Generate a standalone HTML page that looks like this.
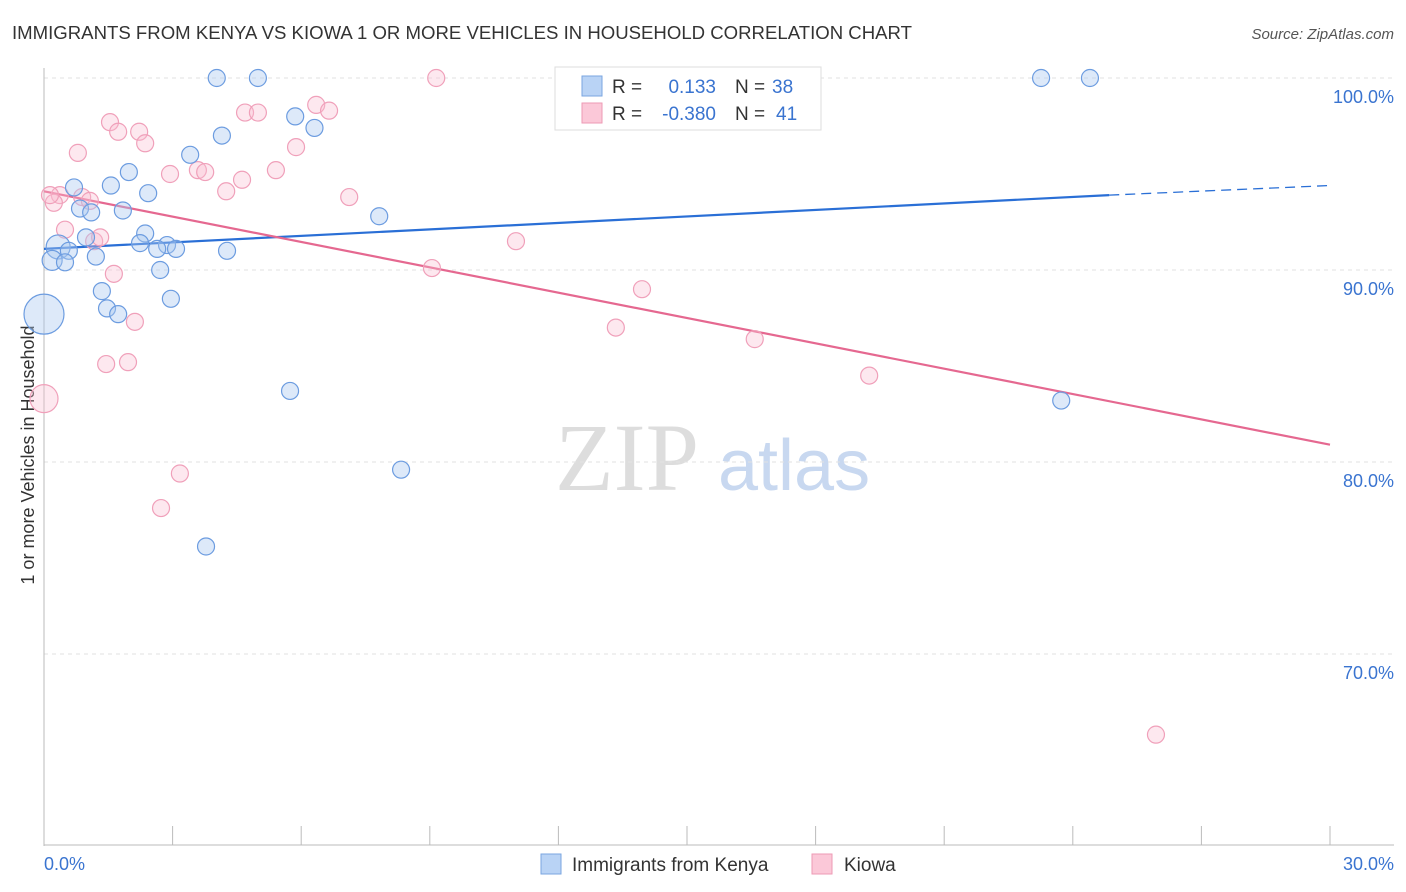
<!DOCTYPE html>
<html><head><meta charset="utf-8"><style>
body{margin:0;background:#fff;font-family:"Liberation Sans",sans-serif;}
svg{display:block}
</style></head><body>
<svg id="chart" width="1406" height="892" xmlns="http://www.w3.org/2000/svg">
<text x="12" y="39" font-size="18" fill="#333" textLength="900" lengthAdjust="spacingAndGlyphs">IMMIGRANTS FROM KENYA VS KIOWA 1 OR MORE VEHICLES IN HOUSEHOLD CORRELATION CHART</text>
<text x="1394" y="39" font-size="15" fill="#555" font-style="italic" text-anchor="end">Source: ZipAtlas.com</text>
<text x="0" y="0" font-size="18" fill="#333" text-anchor="middle" transform="translate(34,455) rotate(-90)">1 or more Vehicles in Household</text>
<g><text x="555" y="490" font-size="96" fill="#ddd" font-family="Liberation Serif,serif">ZIP</text><text x="718" y="490" font-size="72" fill="#c8d8f0">atlas</text></g>
<g id="grid"></g><g id="axes"></g><g id="lines"></g><g id="pts"></g>
<g>
<rect x="555" y="67" width="266" height="63" fill="#fff" stroke="#ddd"/>
<rect x="582" y="76" width="20" height="20" fill="#b9d3f5" stroke="#7aa6e0"/>
<rect x="582" y="103" width="20" height="20" fill="#fbc8d8" stroke="#ee9ab4"/>
<text x="612" y="93" font-size="19" fill="#333">R = </text><text x="716" y="93" font-size="19" fill="#3a74d0" text-anchor="end">0.133</text>
<text x="735" y="93" font-size="19" fill="#333">N = </text><text x="772" y="93" font-size="19" fill="#3a74d0">38</text>
<text x="612" y="120" font-size="19" fill="#333">R = </text><text x="716" y="120" font-size="19" fill="#3a74d0" text-anchor="end">-0.380</text>
<text x="735" y="120" font-size="19" fill="#333">N = </text><text x="776" y="120" font-size="19" fill="#3a74d0">41</text>
</g>
<g>
<rect x="541" y="854" width="20" height="20" fill="#b9d3f5" stroke="#7aa6e0"/>
<text x="572" y="871" font-size="19" fill="#333">Immigrants from Kenya</text>
<rect x="812" y="854" width="20" height="20" fill="#fbc8d8" stroke="#ee9ab4"/>
<text x="844" y="871" font-size="19" fill="#333">Kiowa</text>
</g>
<text x="44" y="870" font-size="18" fill="#3a74d0">0.0%</text>
<text x="1394" y="870" font-size="18" fill="#3a74d0" text-anchor="end">30.0%</text>
</svg>
<script>
const yTicks=[100,90,80,70];
const yTickLabels=["100.0%","90.0%","80.0%","70.0%"];
const kenyaX=[4.03,4.99,23.26,24.40,4.15,5.86,6.31,3.41,1.98,1.56,0.70,2.43,0.84,1.10,1.84,7.82,2.36,0.98,0.33,0.58,2.24,2.87,2.64,3.08,4.27,0.19,0.49,1.21,2.71,1.35,2.96,1.47,1.73,0.00,5.74,23.73,8.33,3.78];
const kenyaY=[100,100,100,100,97.0,98.0,97.4,96.0,95.1,94.4,94.3,94.0,93.2,93.0,93.1,92.8,91.9,91.7,91.2,91.0,91.4,91.3,91.1,91.1,91.0,90.5,90.4,90.7,90.0,88.9,88.5,88.0,87.7,87.7,83.7,83.2,79.6,75.6];
const kenyaR=[8.5,8.5,8.5,8.5,8.5,8.5,8.5,8.5,8.5,8.5,8.5,8.5,8.5,8.5,8.5,8.5,8.5,8.5,12,8.5,8.5,8.5,8.5,8.5,8.5,10,8.5,8.5,8.5,8.5,8.5,8.5,8.5,20,8.5,8.5,8.5,8.5];
const kiowaX=[9.15,1.54,2.22,1.73,2.36,6.35,6.65,4.69,4.99,0.79,5.88,2.94,3.59,3.76,4.62,5.41,4.25,7.12,0.37,0.23,0.89,1.07,0.49,1.17,1.31,11.01,9.05,1.63,13.95,2.12,13.34,16.58,1.45,1.96,19.25,0.00,3.17,2.73,25.94,0.14,16.24];
const kiowaY=[100,97.7,97.2,97.2,96.6,98.6,98.3,98.2,98.2,96.1,96.4,95.0,95.2,95.1,94.7,95.2,94.1,93.8,93.9,93.5,93.8,93.6,92.1,91.5,91.7,91.5,90.1,89.8,89.0,87.3,87.0,86.4,85.1,85.2,84.5,83.3,79.4,77.6,65.8,93.9,100];
const kiowaR=[8.5,8.5,8.5,8.5,8.5,8.5,8.5,8.5,8.5,8.5,8.5,8.5,8.5,8.5,8.5,8.5,8.5,8.5,8.5,8.5,8.5,8.5,8.5,8.5,8.5,8.5,8.5,8.5,8.5,8.5,8.5,8.5,8.5,8.5,8.5,14,8.5,8.5,8.5,8.5,8.5];
const kenyaTrend=[91.1,93.9,94.4];
const kiowaTrend=[94.1,80.9];
const NS="http://www.w3.org/2000/svg";
const X0=44,X1=1330,YT=78,PX=19.2;
const sx=v=>X0+(v/30)*(X1-X0);
const sy=v=>YT+(100-v)*PX;
function mk(tag,attrs,parent){const e=document.createElementNS(NS,tag);for(const k in attrs)e.setAttribute(k,attrs[k]);document.getElementById(parent).appendChild(e);return e;}
yTicks.forEach((t,i)=>{
 const l=mk('line',{x1:X0,x2:1394,y1:sy(t),y2:sy(t),stroke:'#e2e2e2','stroke-dasharray':'4 4'},'grid');
 
 
 const tx=mk('text',{x:1394,y:sy(t)+25,'font-size':18,fill:'#3a74d0','text-anchor':'end'},'grid');
 tx.textContent=yTickLabels[i];
 
 
});
const ax=mk('line',{x1:X0,x2:X0,y1:68,y2:846,stroke:'#bbb'},'axes');


const bx=mk('line',{x1:X0,x2:1394,y1:845,y2:845,stroke:'#bbb'},'axes');


for(let i=0;i<=10;i++){const tk=mk('line',{x1:sx(i*3),x2:sx(i*3),y1:826,y2:845,stroke:'#bbb'},'axes');
 
 }
const kx2=24.85;
let l1=mk('line',{x1:sx(0),y1:sy(kenyaTrend[0]),x2:sx(kx2),y2:sy(kenyaTrend[1]),stroke:'#2a6fd6','stroke-width':2.2},'lines');


let l2=mk('line',{x1:sx(kx2),y1:sy(kenyaTrend[1]),x2:sx(30),y2:sy(kenyaTrend[2]),stroke:'#2a6fd6','stroke-width':1.3,'stroke-dasharray':'10 6'},'lines');


let l3=mk('line',{x1:sx(0),y1:sy(kiowaTrend[0]),x2:sx(30),y2:sy(kiowaTrend[1]),stroke:'#e56890','stroke-width':2.2},'lines');


kiowaX.forEach((v,i)=>{const c=mk('circle',{cx:sx(v),cy:sy(kiowaY[i]),r:kiowaR[i],fill:'rgba(250,190,210,0.35)',stroke:'#f0a0ba','stroke-width':1.2},'pts');
 
 });
kenyaX.forEach((v,i)=>{const c=mk('circle',{cx:sx(v),cy:sy(kenyaY[i]),r:kenyaR[i],fill:'rgba(170,200,240,0.4)',stroke:'#6c9ce0','stroke-width':1.2},'pts');
 
 });
</script>
</body></html>
